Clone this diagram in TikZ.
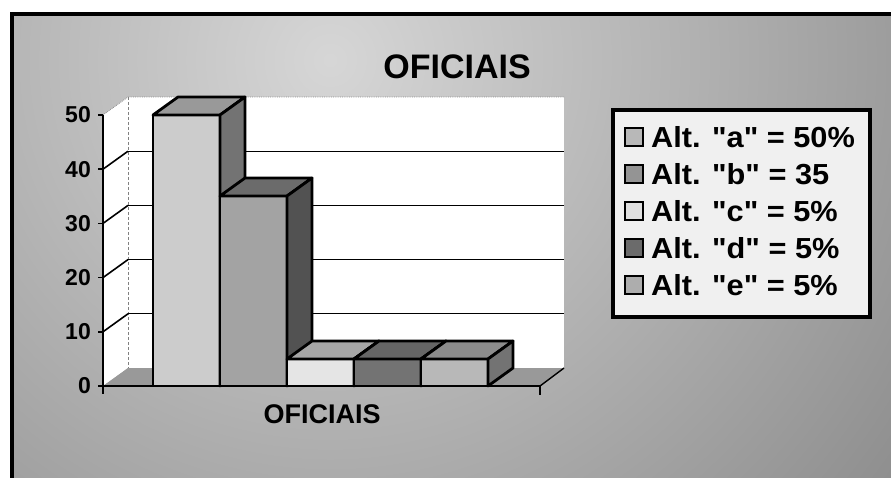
\documentclass[tikz,border=0pt]{standalone}
\usepackage{fontspec}
\setmainfont{Liberation Sans}[Ligatures=TeXOff]
\begin{document}
\begin{tikzpicture}[x=1pt,y=-1pt,
  barline/.style={draw=black,line width=2.8pt,line join=round},
  grid/.style={draw=black,line width=1.1pt},
  ticklab/.style={anchor=east,inner sep=0pt,font=\fontsize{23}{23}\bfseries\selectfont},
  legtext/.style={anchor=west,inner sep=0pt,xscale=1.06,font=\fontsize{29}{29}\bfseries\selectfont},
  legsq/.style={draw=black,line width=2.6pt}]
\useasboundingbox (0,0) rectangle (891,478);
% background
\fill[white] (0,0) rectangle (891,478);
\begin{scope}
\clip (12,14) rectangle (891,478);
\shade[inner color=black!16, outer color=black!62] (330,60) circle (1150);
\end{scope}
\draw[line width=4pt] (12,480) -- (12,14) -- (893,14);
% title
\node[font=\fontsize{34}{34}\bfseries\selectfont] (title) at (457,67) {OFICIAIS};
% walls
\fill[white] (128,97) rectangle (564,368);
\fill[white] (103,115) -- (128,97) -- (128,368) -- (103,386) -- cycle;
\fill[black!40] (103,386) -- (128,368) -- (564,368) -- (540,386) -- cycle;
\draw[black!50, line width=0.8pt, densely dashed] (128,97) -- (128,368);
\draw[black!45, line width=0.8pt, densely dotted] (103,115) -- (128,97) -- (564,97);
% gridlines
\foreach \v in {10,20,30,40}{
  \pgfmathsetmacro{\yy}{386-5.42*\v}
  \draw[line width=1.6pt] (103,\yy) -- (128,\yy-18);
  \draw[grid] (128,\yy-18) -- (564,\yy-18);
}
% bars
\newcommand\drawbar[5]{%
  \filldraw[barline, fill=#3] (#1,386) rectangle (#1+67,#2);
  \filldraw[barline, fill=#4] (#1,#2) -- (#1+25,#2-18) -- (#1+92,#2-18) -- (#1+67,#2) -- cycle;
  \filldraw[barline, fill=#5] (#1+67,#2) -- (#1+92,#2-18) -- (#1+92,368) -- (#1+67,386) -- cycle;
}
\drawbar{153}{115}{black!20}{black!40}{black!55}
\drawbar{220}{196}{black!36}{black!58}{black!68}
\drawbar{287}{359}{black!10}{black!35}{black!50}
\drawbar{354}{359}{black!55}{black!60}{black!65}
\drawbar{421}{359}{black!28}{black!45}{black!55}
% floor outline and axes
\draw[line width=1.4pt] (540,386) -- (564,368);
\draw[line width=1.4pt] (540,386) -- (540,395);
\draw[line width=2.8pt] (103,386) -- (540,386);
\draw[line width=2pt] (103,115) -- (103,394);
\foreach \v in {0,10,20,30,40,50}{
  \pgfmathsetmacro{\yy}{386-5.42*\v}
  \draw[line width=1.6pt] (98,\yy) -- (103,\yy);
  \node[ticklab] (t\v) at (91,\yy) {\v};
}
% x label
\node[font=\fontsize{27}{27}\bfseries\selectfont] (xlab) at (322,414) {OFICIAIS};
% legend
\filldraw[draw=black, line width=4pt, fill=black!6] (613,110) rectangle (870,317);
\foreach \y/\c/\t in {137/black!28/{Alt. "a" = 50\%},174/black!42/{Alt. "b" = 35},211/black!12/{Alt. "c" = 5\%},248/black!58/{Alt. "d" = 5\%},285/black!32/{Alt. "e" = 5\%}}{
  \filldraw[legsq, fill=\c] (625,\y-9) rectangle (643,\y+9);
  \node[legtext] at (651,\y) {\t};
}
\end{tikzpicture}
\end{document}
